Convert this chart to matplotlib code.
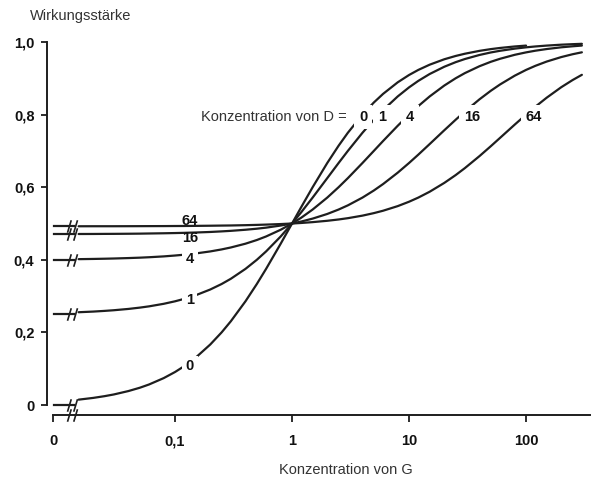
import matplotlib
matplotlib.use('Agg')
import matplotlib.pyplot as plt
from matplotlib.path import Path

# ---- data ----
conc_g = [0.015, 0.02, 0.025, 0.03, 0.04, 0.05, 0.06, 0.08, 0.1, 0.12, 0.15,
          0.2, 0.25, 0.3, 0.4, 0.5, 0.6, 0.8, 1, 1.2, 1.5, 2, 2.5, 3, 4, 5, 6,
          8, 10, 12, 15, 20, 25, 30, 40, 50, 60, 80, 100, 120, 150, 200, 250, 300]
eff_d0 = [0.0148, 0.0196, 0.0244, 0.0291, 0.0385, 0.0476, 0.0566, 0.0741,
          0.0909, 0.1071, 0.1304, 0.1667, 0.2000, 0.2308, 0.2857, 0.3333,
          0.3750, 0.4444, 0.5000, 0.5455, 0.6000, 0.6667, 0.7143, 0.7500,
          0.8000, 0.8333, 0.8571, 0.8889, 0.9091, 0.9231, 0.9375, 0.9524,
          0.9615, 0.9677, 0.9756, 0.9804, 0.9836, 0.9877, 0.9901]
eff_d1 = [0.2556, 0.2574, 0.2593, 0.2611, 0.2647, 0.2683, 0.2718, 0.2788,
          0.2857, 0.2925, 0.3023, 0.3182, 0.3333, 0.3478, 0.3750, 0.4000,
          0.4231, 0.4643, 0.5000, 0.5313, 0.5714, 0.6250, 0.6667, 0.7000,
          0.7500, 0.7857, 0.8125, 0.8500, 0.8750, 0.8929, 0.9118, 0.9318,
          0.9444, 0.9531, 0.9643, 0.9712, 0.9758, 0.9817, 0.9853, 0.9877,
          0.9901, 0.9926, 0.9940, 0.9950]
eff_d4 = [0.4018, 0.4024, 0.4030, 0.4036, 0.4048, 0.4059, 0.4071, 0.4094,
          0.4118, 0.4141, 0.4175, 0.4231, 0.4286, 0.4340, 0.4444, 0.4545,
          0.4643, 0.4828, 0.5000, 0.5161, 0.5385, 0.5714, 0.6000, 0.6250,
          0.6667, 0.7000, 0.7273, 0.7692, 0.8000, 0.8235, 0.8500, 0.8800,
          0.9000, 0.9143, 0.9333, 0.9455, 0.9538, 0.9647, 0.9714, 0.9760,
          0.9806, 0.9854, 0.9882, 0.9902]
eff_d16 = [0.4711, 0.4712, 0.4714, 0.4715, 0.4718, 0.4721, 0.4725, 0.4731,
           0.4737, 0.4743, 0.4752, 0.4767, 0.4783, 0.4798, 0.4828, 0.4857,
           0.4886, 0.4944, 0.5000, 0.5055, 0.5135, 0.5263, 0.5385, 0.5500,
           0.5714, 0.5909, 0.6087, 0.6400, 0.6667, 0.6897, 0.7188, 0.7568,
           0.7857, 0.8085, 0.8421, 0.8657, 0.8831, 0.9072, 0.9231, 0.9343,
           0.9461, 0.9585, 0.9663, 0.9716]
eff_d64 = [0.4924, 0.4925, 0.4925, 0.4925, 0.4926, 0.4927, 0.4928, 0.4929,
           0.4931, 0.4932, 0.4935, 0.4939, 0.4943, 0.4946, 0.4954, 0.4962,
           0.4970, 0.4985, 0.5000, 0.5015, 0.5038, 0.5075, 0.5111, 0.5147,
           0.5217, 0.5286, 0.5352, 0.5479, 0.5600, 0.5714, 0.5875, 0.6118,
           0.6333, 0.6526, 0.6857, 0.7130, 0.7360, 0.7724, 0.8000, 0.8216,
           0.8465, 0.8755, 0.8952, 0.9096]
d_levels = ['0', '1', '4', '16', '64']
eff_at_zero_g = [0.0, 0.25, 0.40, 0.471, 0.492]

x_tick_labels = ['0', '0,1', '1', '10', '100']
y_tick_labels = ['0', '0,2', '0,4', '0,6', '0,8', '1,0']
y_ticks = [0, 0.2, 0.4, 0.6, 0.8, 1.0]

# ---- figure ----
LINE = '#1e1e1e'
TXT = '#333333'
plt.rcParams['font.family'] = ['Liberation Sans', 'DejaVu Sans']

fig = plt.figure(figsize=(5.96, 4.9), dpi=100)
ax = fig.add_axes([47/596, 75/490, 543/596, 373/490])
ax.set_xscale('log')
x_left, x_right = 0.00805, 352
x_zero = 0.00906
x_break = 0.0132
ax.set_xlim(x_left, x_right)
ax.set_ylim(-0.0275, 1.0)

for s in ['top', 'right']:
    ax.spines[s].set_visible(False)
ax.spines['left'].set_bounds(0, 1.0)
ax.spines['bottom'].set_bounds(x_zero, x_right)
for s in ['left', 'bottom']:
    ax.spines[s].set_linewidth(1.4)
    ax.spines[s].set_color(LINE)

ax.set_xticks([x_zero, 0.1, 1, 10, 100])
ax.set_xticklabels(x_tick_labels)
ax.minorticks_off()
ax.set_yticks(y_ticks)
ax.set_yticklabels(y_tick_labels)
ax.tick_params(axis='both', direction='out', width=1.3, color=LINE,
               labelsize=10.5, labelcolor='#111111')
ax.tick_params(axis='x', length=5, pad=9)
ax.tick_params(axis='y', length=4, pad=5)
for lab in ax.get_xticklabels() + ax.get_yticklabels():
    lab.set_fontweight('bold')

series = [eff_d0, eff_d1, eff_d4, eff_d16, eff_d64]
for eff in series:
    ax.plot(conc_g[:len(eff)], eff, color=LINE, lw=1.6, clip_on=False,
            solid_capstyle='round', solid_joinstyle='round', zorder=2)

# flat segments at G = 0
for b in eff_at_zero_g:
    ax.plot([0.00925, 0.0138], [b, b], color=LINE, lw=1.6, clip_on=False, zorder=2)

# break marks
brk = Path([(-0.8, -1), (-0.2, 1), (0.2, -1), (0.8, 1)],
           [Path.MOVETO, Path.LINETO, Path.MOVETO, Path.LINETO])
ax.plot([x_break] * len(eff_at_zero_g), eff_at_zero_g, ls='none', marker=brk,
        ms=9, mec=LINE, mew=1.2, clip_on=False, zorder=3)
ax.plot([x_break], [-0.0275], ls='none', marker=brk, ms=9, mec=LINE, mew=1.2,
        clip_on=False, zorder=3)

# curve labels on the left
lab_kw = dict(ha='center', va='center', fontsize=10.5, fontweight='bold',
              color='#111111', zorder=4)
left_pos = {'64': 0.506, '16': 0.459, '4': 0.402, '1': 0.289, '0': 0.107}
for d in d_levels:
    kw = dict(lab_kw)
    if d in ('1', '4', '0'):
        kw['bbox'] = dict(facecolor='white', edgecolor='none', pad=2.5)
    ax.text(0.134, left_pos[d], d, **kw)

# curve labels at the top
top_x = {'0': 4.05, '1': 5.9, '4': 10.2, '16': 34.6, '64': 117}
for d in d_levels:
    ax.text(top_x[d], 0.793, d,
            bbox=dict(facecolor='white', edgecolor='none', pad=3.5), **lab_kw)
ax.text(2.95, 0.793, 'Konzentration von D =', ha='right', va='center',
        fontsize=10.5, color=TXT, zorder=4,
        bbox=dict(facecolor='white', edgecolor='none', pad=1))

fig.text(30/596, 1 - 16/490, 'Wirkungsstärke', ha='left', va='center',
         fontsize=10.5, color=TXT)
fig.text(346/596, 1 - 470/490, 'Konzentration von G', ha='center', va='center',
         fontsize=10.5, color=TXT)

fig.savefig('out.png', dpi=100, facecolor='white')
